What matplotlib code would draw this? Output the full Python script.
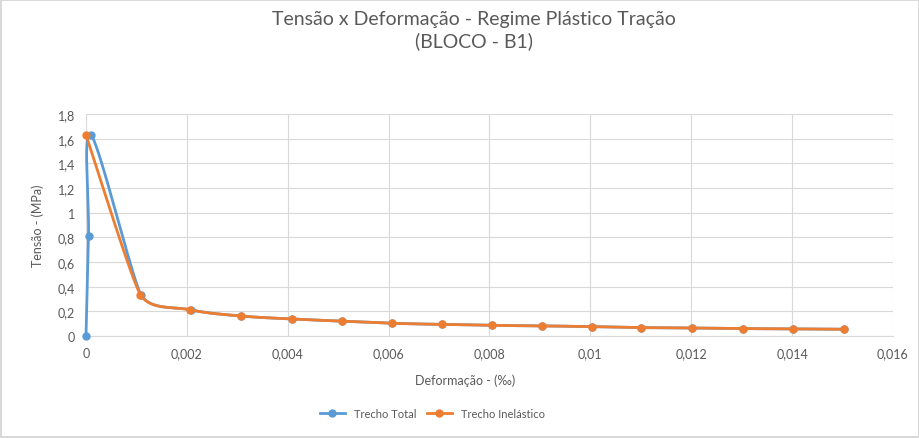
import numpy as np
import matplotlib
matplotlib.use("Agg")
import matplotlib.pyplot as plt
from matplotlib.ticker import FuncFormatter

# Trecho Total (blue)
total_x = [0.0, 0.00005, 0.0001, 0.00109, 0.00208, 0.00307, 0.00408, 0.00508,
           0.00607, 0.00706, 0.00805, 0.00905, 0.01003, 0.01101, 0.01201,
           0.01302, 0.01401, 0.01502]
total_y = [0.0, 0.81, 1.63, 0.335, 0.212, 0.162, 0.138, 0.12, 0.103, 0.094,
           0.086, 0.082, 0.076, 0.068, 0.065, 0.06, 0.058, 0.055]

# Trecho Inelástico (orange)
inel_x = [0.0, 0.00108, 0.00207, 0.00307, 0.00408, 0.00508, 0.00607, 0.00706,
          0.00805, 0.00905, 0.01003, 0.01101, 0.01201, 0.01302, 0.01401, 0.01502]
inel_y = [1.63, 0.335, 0.212, 0.162, 0.138, 0.12, 0.103, 0.094, 0.086, 0.082,
          0.076, 0.068, 0.065, 0.06, 0.058, 0.055]

x_ticks = [0, 0.002, 0.004, 0.006, 0.008, 0.01, 0.012, 0.014, 0.016]
y_ticks = [0, 0.2, 0.4, 0.6, 0.8, 1.0, 1.2, 1.4, 1.6, 1.8]

BLUE = "#5B9BD5"
ORANGE = "#ED7D31"
GRAY = "#595959"

plt.rcParams['font.family'] = ['Lato', 'DejaVu Sans']

XMAX, YMAX = 0.016, 1.8
W_PX, H_PX = 807, 222   # plot area size, used to smooth in screen space


def smooth(xs, ys, n=40, clamp=0.35):
    # bezier smoothing like the spreadsheet "smoothed line", handles limited
    p = np.column_stack([np.array(xs) / XMAX * W_PX, np.array(ys) / YMAX * H_PX])
    seg = [np.linalg.norm(p[i + 1] - p[i]) for i in range(len(p) - 1)]
    out = [p[0]]
    for i in range(len(p) - 1):
        p0 = p[i - 1] if i > 0 else p[i]
        p3 = p[i + 2] if i + 2 < len(p) else p[i + 1]
        h1 = (p[i + 1] - p0) / 6
        h2 = (p3 - p[i]) / 6
        lim1 = clamp * min(seg[i], seg[i - 1] if i > 0 else seg[i])
        lim2 = clamp * min(seg[i], seg[i + 1] if i + 1 < len(seg) else seg[i])
        for h, lim in ((h1, lim1), (h2, lim2)):
            ln = np.linalg.norm(h)
            if ln > lim:
                h *= lim / ln
        c1 = p[i] + h1
        c2 = p[i + 1] - h2
        t = np.linspace(0, 1, n)[1:, None]
        out.extend((1 - t) ** 3 * p[i] + 3 * (1 - t) ** 2 * t * c1
                   + 3 * (1 - t) * t ** 2 * c2 + t ** 3 * p[i + 1])
    out = np.array(out)
    return out[:, 0] / W_PX * XMAX, out[:, 1] / H_PX * YMAX


fig = plt.figure(figsize=(9.2, 4.39), dpi=100)
fig.patch.set_edgecolor("#D9D9D9")
fig.patch.set_linewidth(1.5)
ax = fig.add_axes([86 / 920, 1 - 337 / 439, W_PX / 920, H_PX / 439])

sx, sy = smooth(total_x, total_y)
ax.plot(sx, sy, color=BLUE, lw=2, zorder=3, clip_on=False)
ax.plot(total_x, total_y, 'o', color=BLUE, ms=5, zorder=3, clip_on=False)
sx, sy = smooth(inel_x, inel_y)
ax.plot(sx, sy, color=ORANGE, lw=2, zorder=4, clip_on=False)
ax.plot(inel_x, inel_y, 'o', color=ORANGE, ms=5, zorder=4, clip_on=False)

# legend handles
ax.plot([], [], '-o', color=BLUE, lw=2, ms=5, label="Trecho Total")
ax.plot([], [], '-o', color=ORANGE, lw=2, ms=5, label="Trecho Inelástico")

ax.set_xlim(0, XMAX)
ax.set_ylim(0, YMAX)
ax.set_xticks(x_ticks)
ax.set_yticks(y_ticks)

fmt = FuncFormatter(lambda v, pos: ('%g' % round(v, 4)).replace('.', ','))
ax.xaxis.set_major_formatter(fmt)
ax.yaxis.set_major_formatter(fmt)
ax.tick_params(colors=GRAY, labelsize=9, length=0, pad=8)

ax.grid(True, color="#D9D9D9", lw=0.8)
ax.set_axisbelow(True)
for s in ['top', 'right', 'left']:
    ax.spines[s].set_visible(False)
ax.spines['bottom'].set_color("#D9D9D9")

ax.set_xlabel("Deformação - (‰)", color=GRAY, fontsize=9)
ax.xaxis.set_label_coords(0.47, -0.17)
ax.set_ylabel("Tensão - (MPa)", color=GRAY, fontsize=9, labelpad=10)

fig.text(0.515, 0.975, "Tensão x Deformação - Regime Plástico Tração\n(BLOCO - B1)",
         ha='center', va='top', fontsize=14, color=GRAY, linespacing=1.3)

fig.legend(loc='center', bbox_to_anchor=(0.47, 0.055), ncol=2, frameon=False,
           fontsize=8, labelcolor=GRAY, handlelength=2.2, columnspacing=1.0)

fig.savefig("out.png", dpi=100)
